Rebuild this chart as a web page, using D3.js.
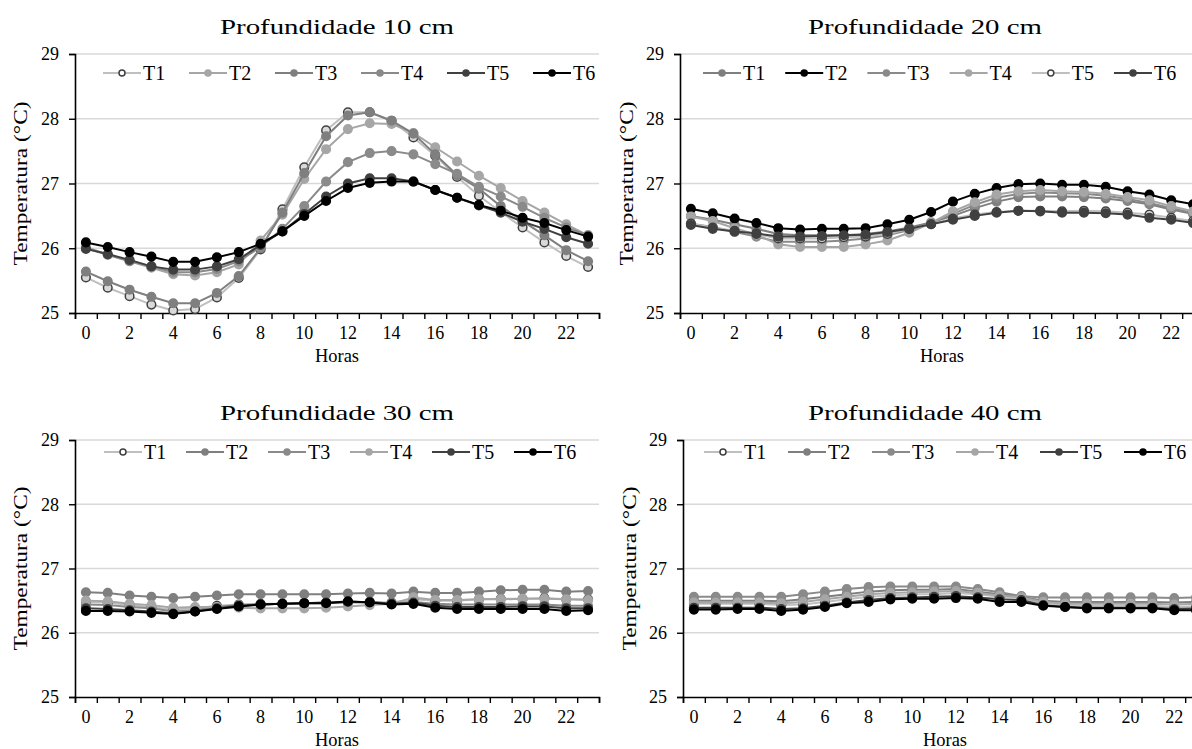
<!DOCTYPE html>
<html><head><meta charset="utf-8">
<script src="https://cdn.jsdelivr.net/npm/d3@7"></script>
<style>
html,body{margin:0;padding:0;background:#fff;overflow:hidden;}
svg{display:block;}
svg text{font-family:"Liberation Serif",Tinos,"Times New Roman",Times,"DejaVu Serif","Noto Serif",serif;}
</style></head>
<body>
<svg id="c" width="1192" height="749"></svg>
<script>
// ---------- DATA ----------
const hours = [0,1,2,3,4,5,6,7,8,9,10,11,12,13,14,15,16,17,18,19,20,21,22,23];
const hourLabels = [0,2,4,6,8,10,12,14,16,18,20,22];
const yTicks = [25,26,27,28,29];
const seriesNames = ["T1","T2","T3","T4","T5","T6"];
const panelTitles = ["Profundidade 10 cm","Profundidade 20 cm","Profundidade 30 cm","Profundidade 40 cm"];

const p10_T1 = [25.55,25.39,25.26,25.13,25.04,25.06,25.24,25.54,25.98,26.60,27.25,27.82,28.10,28.10,27.97,27.71,27.43,27.10,26.81,26.56,26.32,26.09,25.88,25.71];
const p10_T2 = [26.02,25.90,25.80,25.70,25.60,25.58,25.63,25.75,26.12,26.52,27.07,27.53,27.84,27.93,27.92,27.78,27.56,27.34,27.12,26.93,26.73,26.55,26.37,26.20];
const p10_T3 = [25.64,25.49,25.36,25.25,25.15,25.15,25.31,25.57,26.00,26.55,27.16,27.73,28.05,28.10,27.97,27.77,27.45,27.13,26.92,26.65,26.42,26.20,25.97,25.80];
const p10_T4 = [26.00,25.90,25.80,25.72,25.63,25.63,25.68,25.80,26.02,26.30,26.65,27.03,27.33,27.47,27.50,27.45,27.30,27.15,26.95,26.80,26.64,26.47,26.32,26.20];
const p10_T5 = [25.99,25.91,25.82,25.72,25.67,25.67,25.72,25.83,26.05,26.26,26.53,26.80,27.00,27.08,27.08,27.03,26.90,26.78,26.66,26.55,26.41,26.30,26.17,26.07];
const p10_T6 = [26.09,26.02,25.94,25.87,25.79,25.79,25.86,25.94,26.07,26.26,26.50,26.73,26.93,27.01,27.03,27.03,26.90,26.78,26.67,26.58,26.47,26.39,26.28,26.18];

const p20_T1 = [26.50,26.44,26.37,26.30,26.22,26.20,26.20,26.20,26.22,26.26,26.32,26.40,26.50,26.62,26.72,26.79,26.80,26.80,26.79,26.77,26.73,26.68,26.60,26.53];
const p20_T2 = [26.61,26.54,26.46,26.39,26.31,26.29,26.30,26.30,26.31,26.37,26.44,26.56,26.72,26.84,26.93,26.99,27.00,26.98,26.98,26.95,26.88,26.83,26.74,26.68];
const p20_T3 = [26.38,26.33,26.25,26.18,26.10,26.10,26.10,26.12,26.15,26.20,26.28,26.38,26.53,26.67,26.78,26.84,26.86,26.85,26.84,26.81,26.76,26.70,26.62,26.55];
const p20_T4 = [26.49,26.42,26.31,26.21,26.06,26.02,26.02,26.02,26.06,26.12,26.24,26.39,26.57,26.71,26.83,26.88,26.90,26.88,26.87,26.84,26.79,26.74,26.65,26.57];
const p20_T5 = [26.38,26.32,26.27,26.22,26.15,26.15,26.15,26.17,26.18,26.22,26.30,26.37,26.46,26.52,26.56,26.58,26.58,26.57,26.58,26.57,26.55,26.52,26.47,26.42];
const p20_T6 = [26.36,26.30,26.26,26.23,26.18,26.18,26.19,26.20,26.21,26.25,26.30,26.37,26.44,26.50,26.55,26.58,26.57,26.55,26.55,26.54,26.52,26.47,26.44,26.39];

const p30_T1 = [26.48,26.47,26.43,26.40,26.36,26.38,26.42,26.44,26.45,26.45,26.46,26.47,26.48,26.48,26.47,26.52,26.50,26.50,26.52,26.53,26.53,26.54,26.52,26.52];
const p30_T2 = [26.63,26.62,26.58,26.56,26.54,26.56,26.58,26.60,26.60,26.60,26.60,26.60,26.61,26.62,26.61,26.64,26.62,26.62,26.64,26.66,26.67,26.67,26.64,26.65];
const p30_T3 = [26.44,26.43,26.40,26.38,26.33,26.35,26.40,26.43,26.44,26.45,26.46,26.46,26.47,26.47,26.46,26.48,26.45,26.44,26.44,26.44,26.44,26.44,26.42,26.42];
const p30_T4 = [26.50,26.49,26.45,26.43,26.39,26.40,26.40,26.39,26.38,26.38,26.38,26.39,26.41,26.43,26.45,26.55,26.51,26.51,26.52,26.52,26.53,26.53,26.52,26.51];
const p30_T5 = [26.38,26.37,26.35,26.33,26.30,26.33,26.38,26.42,26.44,26.45,26.46,26.47,26.48,26.48,26.45,26.47,26.42,26.40,26.40,26.40,26.41,26.41,26.38,26.38];
const p30_T6 = [26.34,26.34,26.33,26.31,26.29,26.33,26.37,26.41,26.44,26.45,26.46,26.46,26.49,26.47,26.44,26.45,26.39,26.37,26.37,26.37,26.37,26.37,26.34,26.35];

const p40_T1 = [26.45,26.45,26.45,26.45,26.43,26.44,26.48,26.52,26.56,26.58,26.60,26.60,26.62,26.60,26.56,26.54,26.46,26.43,26.42,26.42,26.42,26.42,26.40,26.41];
const p40_T2 = [26.50,26.50,26.50,26.50,26.49,26.52,26.56,26.60,26.64,26.66,26.67,26.67,26.68,26.64,26.60,26.56,26.50,26.48,26.48,26.48,26.48,26.48,26.47,26.48];
const p40_T3 = [26.56,26.56,26.56,26.56,26.56,26.60,26.64,26.68,26.71,26.72,26.72,26.72,26.72,26.68,26.63,26.57,26.55,26.55,26.55,26.55,26.55,26.55,26.54,26.55];
const p40_T4 = [26.47,26.47,26.47,26.47,26.46,26.48,26.52,26.56,26.60,26.62,26.63,26.64,26.65,26.62,26.58,26.55,26.48,26.45,26.45,26.45,26.45,26.45,26.44,26.45];
const p40_T5 = [26.39,26.39,26.39,26.39,26.37,26.38,26.42,26.47,26.51,26.54,26.55,26.56,26.57,26.55,26.52,26.51,26.43,26.40,26.39,26.39,26.39,26.39,26.37,26.38];
const p40_T6 = [26.36,26.36,26.37,26.37,26.34,26.36,26.40,26.46,26.48,26.52,26.53,26.53,26.54,26.53,26.48,26.48,26.42,26.40,26.38,26.38,26.38,26.38,26.35,26.35];

// ---------- STYLES / LAYOUT ----------
const FONT = '"Liberation Serif", Tinos, "Times New Roman", Times, "DejaVu Serif", serif';
const styles = {
  open:  {line:"#bfbfbf", fill:"#d9d9d9", stroke:"#404040", lfill:"#ffffff"},
  light: {line:"#a6a6a6", fill:"#a6a6a6", stroke:"#a6a6a6", lfill:"#a6a6a6"},
  gray:  {line:"#7f7f7f", fill:"#7f7f7f", stroke:"#7f7f7f", lfill:"#7f7f7f"},
  gray2: {line:"#8a8a8a", fill:"#8a8a8a", stroke:"#8a8a8a", lfill:"#8a8a8a"},
  dark:  {line:"#404040", fill:"#404040", stroke:"#404040", lfill:"#404040"},
  black: {line:"#000000", fill:"#000000", stroke:"#000000", lfill:"#000000"}
};

const panels = [
  {title:panelTitles[0], data:[p10_T1,p10_T2,p10_T3,p10_T4,p10_T5,p10_T6],
   sty:["open","light","gray","gray2","dark","black"],
   left:75, top:54, bottom:313, titleX:337, ytX:20, legX:103, legStep:86, legY:73},
  {title:panelTitles[1], data:[p20_T1,p20_T2,p20_T3,p20_T4,p20_T5,p20_T6],
   sty:["gray","black","gray2","light","open","dark"],
   left:680, top:54, bottom:313, titleX:925, ytX:626, legX:703, legStep:82.2, legY:73},
  {title:panelTitles[2], data:[p30_T1,p30_T2,p30_T3,p30_T4,p30_T5,p30_T6],
   sty:["open","gray","gray2","light","dark","black"],
   left:75, top:440, bottom:697, titleX:337, ytX:20, legX:104, legStep:82, legY:452},
  {title:panelTitles[3], data:[p40_T1,p40_T2,p40_T3,p40_T4,p40_T5,p40_T6],
   sty:["open","gray","gray2","light","dark","black"],
   left:683, top:440, bottom:697, titleX:925, ytX:629, legX:704, legStep:84, legY:452}
];
const plotW = 524;

const svg = d3.select("#c");

panels.forEach(p => {
  const g = svg.append("g").attr("font-family", FONT);
  const x = d3.scaleBand().domain(hours).range([p.left, p.left + plotW]).paddingInner(0).paddingOuter(0);
  const xb = d3.scaleLinear().domain([0, hours.length]).range([p.left, p.left + plotW]);
  const y = d3.scaleLinear().domain([25, 29]).range([p.bottom, p.top]);

  // gridlines
  g.append("g").selectAll("line").data(yTicks.filter(v => v > 25)).join("line")
    .attr("x1", p.left).attr("x2", p.left + plotW)
    .attr("y1", d => y(d)).attr("y2", d => y(d))
    .attr("stroke", "#d9d9d9").attr("stroke-width", 1.5);

  // y axis
  const ya = g.append("g").attr("transform", `translate(${p.left},0)`)
    .call(d3.axisLeft(y).tickValues(yTicks).tickSize(6).tickPadding(10).tickFormat(d3.format("d")));
  ya.attr("font-family", FONT);
  ya.select(".domain").attr("stroke", "#000").attr("stroke-width", 1.6);
  ya.selectAll(".tick line").attr("stroke", "#000").attr("stroke-width", 1.4);
  ya.selectAll("text").attr("font-family", FONT).attr("font-size", 18).attr("fill", "#000");

  // x axis boundary ticks
  const xt = g.append("g").attr("transform", `translate(0,${p.bottom})`)
    .call(d3.axisBottom(xb).tickValues(d3.range(hours.length + 1)).tickSize(6).tickFormat(""));
  xt.select(".domain").attr("stroke", "#000").attr("stroke-width", 1.6);
  xt.selectAll(".tick line").attr("stroke", "#000").attr("stroke-width", 1.4);
  // x labels
  const xl = g.append("g").attr("transform", `translate(0,${p.bottom})`)
    .call(d3.axisBottom(x).tickValues(hourLabels).tickSize(0).tickPadding(13));
  xl.attr("font-family", FONT);
  xl.select(".domain").remove();
  xl.selectAll("text").attr("font-family", FONT).attr("font-size", 18).attr("fill", "#000");

  // axis titles
  g.append("text").attr("x", x(11) + x.bandwidth()).attr("y", p.bottom + 49)
    .attr("text-anchor", "middle").attr("font-size", 19).attr("textLength", 44)
    .attr("lengthAdjust", "spacingAndGlyphs").text("Horas");
  g.append("text").attr("transform", `translate(${p.ytX},${(p.top + p.bottom) / 2}) rotate(-90)`)
    .attr("text-anchor", "middle").attr("dy", "0.35em").attr("font-size", 19)
    .attr("textLength", 164).attr("lengthAdjust", "spacingAndGlyphs").text("Temperatura (°C)");
  g.append("text").attr("x", p.titleX).attr("y", p.top - 20).attr("text-anchor", "middle")
    .attr("font-size", 21).attr("textLength", 234).attr("lengthAdjust", "spacingAndGlyphs").text(p.title);

  // series
  const line = d3.line().x((d, i) => x(hours[i]) + x.bandwidth() / 2).y(d => y(d));
  p.data.forEach((vals, si) => {
    const s = styles[p.sty[si]];
    const sg = g.append("g");
    sg.append("path").datum(vals).attr("d", line).attr("fill", "none")
      .attr("stroke", s.line).attr("stroke-width", 2);
    sg.selectAll("circle").data(vals).join("circle")
      .attr("cx", (d, i) => x(hours[i]) + x.bandwidth() / 2).attr("cy", d => y(d))
      .attr("r", 4.3).attr("fill", s.fill).attr("stroke", s.stroke).attr("stroke-width", 1.5);
  });

  // legend
  const lg = g.append("g");
  seriesNames.forEach((nm, si) => {
    const s = styles[p.sty[si]];
    const lx = p.legX + si * p.legStep;
    lg.append("line").attr("x1", lx).attr("x2", lx + 38).attr("y1", p.legY).attr("y2", p.legY)
      .attr("stroke", s.line).attr("stroke-width", 2);
    lg.append("circle").attr("cx", lx + 19).attr("cy", p.legY).attr("r", 3)
      .attr("fill", s.lfill).attr("stroke", s.stroke).attr("stroke-width", 1.5);
    lg.append("text").attr("x", lx + 40).attr("y", p.legY).attr("dy", "0.35em")
      .attr("font-size", 20).text(nm);
  });
});
</script>
</body></html>
